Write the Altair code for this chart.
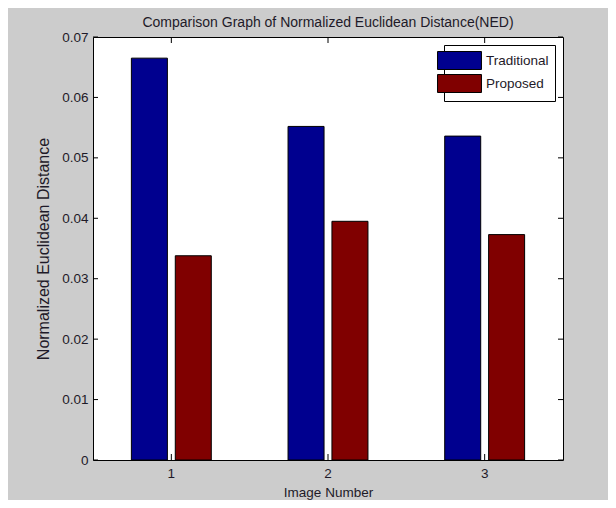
import altair as alt
import pandas as pd

# ---- data ----
images = ["1", "2", "3"]
series = ["Traditional", "Proposed"]
traditional = [0.0665, 0.0552, 0.0536]
proposed = [0.0338, 0.0395, 0.0373]
colors = ["#00008f", "#800000"]
y_ticks = [0, 0.01, 0.02, 0.03, 0.04, 0.05, 0.06, 0.07]

rows = []
for i, img in enumerate(images):
    rows.append({"image": img, "method": "Traditional", "ned": traditional[i]})
    rows.append({"image": img, "method": "Proposed", "ned": proposed[i]})
df = pd.DataFrame(rows)
ytick_df = pd.DataFrame({"ned": y_ticks})
xtick_df = pd.DataFrame({"image": images})

W, H = 470, 423
FONT = "Liberation Sans, Arial"
FS = 13.5
TXT = "#1e1a28"

xscale = alt.Scale(domain=images, paddingInner=0, paddingOuter=0)
yscale = alt.Scale(domain=[0, 0.07], nice=False, zero=True)

xaxis = alt.Axis(title="Image Number", labelAngle=0, ticks=False, domain=False,
                 grid=False, labelPadding=6, titlePadding=6,
                 labelFont=FONT, titleFont=FONT, labelFontSize=FS, titleFontSize=FS)
yaxis = alt.Axis(title="Normalized Euclidean Distance", values=y_ticks,
                 labelExpr="datum.value == 0 ? '0' : format(datum.value, '.2f')",
                 ticks=False, domain=False, grid=False, labelPadding=5,
                 titlePadding=10, labelFont=FONT, titleFont=FONT,
                 labelFontSize=FS, titleFontSize=16)

bars = alt.Chart(df).mark_bar(stroke="black", strokeWidth=1).encode(
    x=alt.X("image:N", scale=xscale, sort=images, axis=xaxis),
    xOffset=alt.XOffset("method:N", sort=series,
                        scale=alt.Scale(domain=series, paddingInner=0.18, paddingOuter=0.874)),
    y=alt.Y("ned:Q", scale=yscale, axis=yaxis),
    color=alt.Color("method:N", sort=series,
                    scale=alt.Scale(domain=series, range=colors),
                    legend=alt.Legend(title=None, orient="top-right", offset=8,
                                      symbolType="M-2.44,-1H2.44V1H-2.44Z", symbolSize=324,
                                      symbolStrokeColor="black", symbolStrokeWidth=1,
                                      symbolOpacity=1, labelFont=FONT, labelFontSize=FS,
                                      labelColor=TXT, labelOffset=17, rowPadding=0,
                                      padding=6, strokeColor="black", fillColor="white")),
)

left_ticks = alt.Chart(ytick_df).mark_rule(color="black").encode(
    y=alt.Y("ned:Q", scale=yscale, axis=yaxis), x=alt.value(0), x2=alt.value(5))
right_ticks = alt.Chart(ytick_df).mark_rule(color="black").encode(
    y=alt.Y("ned:Q", scale=yscale, axis=yaxis), x=alt.value(W - 5), x2=alt.value(W))
top_ticks = alt.Chart(xtick_df).mark_rule(color="black").encode(
    x=alt.X("image:N", scale=xscale, sort=images, axis=xaxis), y=alt.value(0), y2=alt.value(6))
bottom_ticks = alt.Chart(xtick_df).mark_rule(color="black").encode(
    x=alt.X("image:N", scale=xscale, sort=images, axis=xaxis), y=alt.value(H - 6), y2=alt.value(H))

chart = alt.layer(bars, left_ticks, right_ticks, top_ticks, bottom_ticks).properties(
    width=W, height=H,
    title=alt.TitleParams("Comparison Graph of Normalized Euclidean Distance(NED)",
                          font=FONT, fontSize=14, fontWeight="normal", color=TXT,
                          anchor="middle", frame="group", offset=0),
    autosize=alt.AutoSizeParams(type="none"),
    padding={"left": 85, "top": 29, "right": 45, "bottom": 40},
    background="#cccccc",
).configure_view(
    stroke="black", strokeWidth=1, fill="white"
).configure_axis(
    titleFontWeight="normal", labelColor=TXT, titleColor=TXT
)

chart.save("out.html", embed_options={"renderer": "svg", "actions": False})
